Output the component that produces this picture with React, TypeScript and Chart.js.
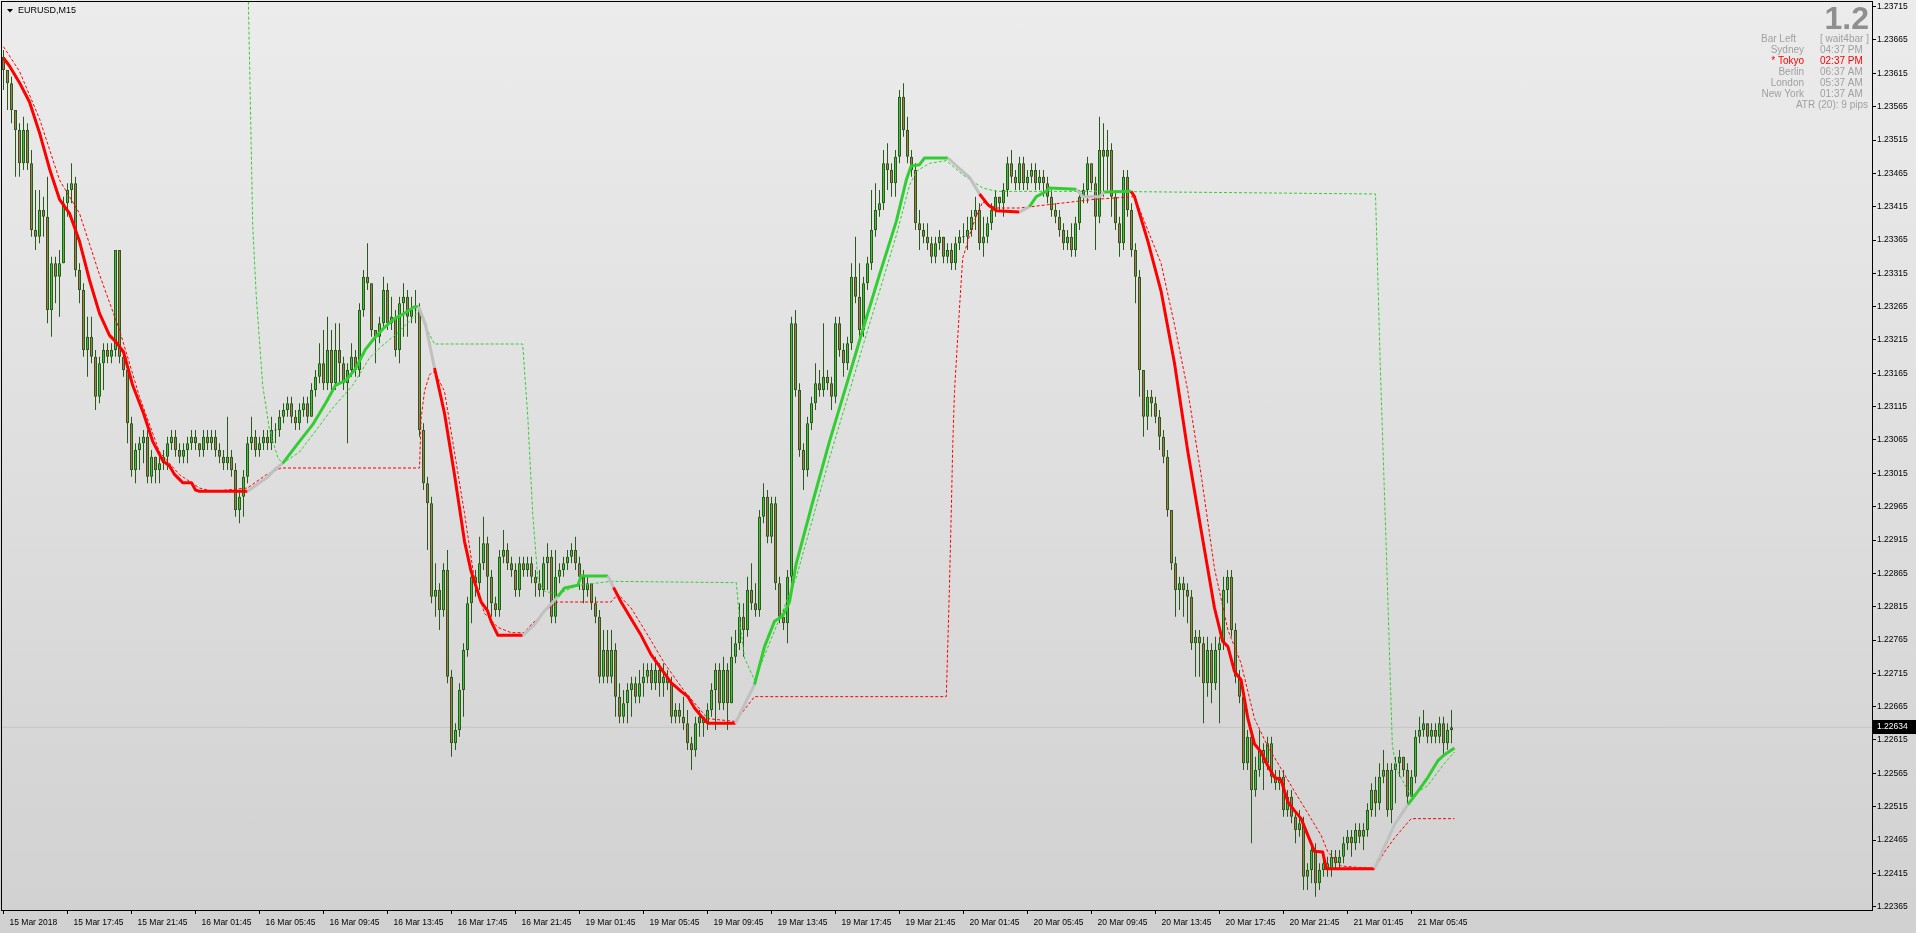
import React, { useEffect, useRef } from "react";
import { Chart, registerables } from "chart.js";

Chart.register(...registerables);

// ---------- data (EURUSD M15) ----------
const symbolTitle = "EURUSD,M15";
const firstOpen = 1.2364;
const lastPrice = 1.22634;

const closes = [1.2362,1.2360,1.2356,1.2353,1.2348,1.2353,1.2348,1.2338,1.2337,1.2341,
1.2340,1.2326,1.2333,1.2331,1.2333,1.2342,1.2344,1.2345,1.2332,1.2329,
1.2320,1.2322,1.2319,1.2313,1.2318,1.2320,1.2319,1.2320,1.2335,1.2319,
1.2317,1.2309,1.2302,1.2305,1.2306,1.2307,1.2301,1.2304,1.2302,1.2303,
1.2304,1.2306,1.2307,1.2305,1.2304,1.2305,1.2306,1.2307,1.2306,1.2305,
1.2307,1.2306,1.2307,1.2305,1.2304,1.2303,1.2304,1.2302,1.2296,1.2298,
1.2301,1.2306,1.2307,1.2305,1.2306,1.2307,1.2306,1.2308,1.2308,1.2310,
1.2311,1.2312,1.2310,1.2309,1.2311,1.2312,1.2310,1.2314,1.2316,1.2318,
1.2315,1.2320,1.2315,1.2320,1.2318,1.2315,1.2317,1.2319,1.2317,1.2326,
1.2331,1.2330,1.2323,1.2322,1.2324,1.2329,1.2324,1.2325,1.2320,1.2327,
1.2328,1.2325,1.2326,1.2326,1.2308,1.2300,1.2297,1.2283,1.2284,1.2281,
1.2287,1.2271,1.2261,1.2263,1.2269,1.2275,1.2282,1.2286,1.2285,1.2288,
1.2291,1.2286,1.2282,1.2281,1.2289,1.2290,1.2288,1.2287,1.2284,1.2288,
1.2287,1.2288,1.2286,1.2285,1.2284,1.2288,1.2289,1.2280,1.2286,1.2287,
1.2288,1.2289,1.2290,1.2288,1.2286,1.2284,1.2285,1.2282,1.2280,1.2271,
1.2275,1.2271,1.2275,1.2268,1.2265,1.2267,1.2269,1.2270,1.2268,1.2270,
1.2271,1.2272,1.2270,1.2272,1.2270,1.2271,1.2270,1.2265,1.2266,1.2265,
1.2264,1.2261,1.2260,1.2264,1.2265,1.2264,1.2266,1.2269,1.2272,1.2267,
1.2272,1.2267,1.2274,1.2276,1.2280,1.2278,1.2284,1.2282,1.2281,1.2295,
1.2298,1.2292,1.2297,1.2285,1.2280,1.2279,1.2286,1.2324,1.2314,1.2305,
1.2302,1.2309,1.2312,1.2315,1.2314,1.2316,1.2315,1.2313,1.2324,1.2320,
1.2318,1.2321,1.2331,1.2328,1.2323,1.2330,1.2333,1.2338,1.2341,1.2342,
1.2348,1.2347,1.2345,1.2349,1.2358,1.2353,1.2349,1.2347,1.2339,1.2338,
1.2337,1.2336,1.2334,1.2336,1.2337,1.2334,1.2335,1.2333,1.2336,1.2337,
1.2337,1.2338,1.2340,1.2341,1.2336,1.2337,1.2339,1.2341,1.2343,1.2342,
1.2344,1.2348,1.2346,1.2345,1.2348,1.2345,1.2346,1.2347,1.2345,1.2346,
1.2345,1.2343,1.2341,1.2340,1.2338,1.2336,1.2337,1.2335,1.2339,1.2343,
1.2344,1.2348,1.2345,1.2340,1.2350,1.2349,1.2350,1.2343,1.2339,1.2336,
1.2346,1.2341,1.2335,1.2331,1.2317,1.2310,1.2313,1.2312,1.2310,1.2307,
1.2304,1.2296,1.2288,1.2284,1.2285,1.2284,1.2283,1.2276,1.2277,1.2276,
1.2270,1.2275,1.2270,1.2275,1.2276,1.2284,1.2286,1.2278,1.2271,1.2268,
1.2258,1.2262,1.2254,1.2257,1.2260,1.2258,1.2261,1.2256,1.2255,1.2256,
1.2251,1.2253,1.2250,1.2248,1.2249,1.2241,1.2242,1.2245,1.2240,1.2242,
1.2243,1.2242,1.2244,1.2243,1.2244,1.2246,1.2247,1.2246,1.2248,1.2247,
1.2248,1.2251,1.2254,1.2252,1.2256,1.2257,1.2251,1.2257,1.2258,1.2259,
1.2257,1.2253,1.2256,1.2262,1.2263,1.2264,1.2262,1.2263,1.2262,1.2264,
1.2261,1.2263,1.22634];

const highs = [1.2365,1.2362,1.2361,1.2356,1.2354,1.2355,1.2354,1.2350,1.2344,1.2344,
1.2343,1.2346,1.2334,1.2334,1.2335,1.2343,1.2345,1.2348,1.2346,1.2333,
1.2330,1.2325,1.2325,1.2320,1.2319,1.2321,1.2321,1.2321,1.2335,1.2335,
1.2320,1.2318,1.2310,1.2306,1.2307,1.2308,1.2308,1.2305,1.2304,1.2304,
1.2305,1.2307,1.2308,1.2308,1.2306,1.2306,1.2307,1.2308,1.2308,1.2306,
1.2308,1.2308,1.2308,1.2308,1.2306,1.2305,1.2310,1.2305,1.2303,1.2299,
1.2302,1.2307,1.2310,1.2308,1.2307,1.2308,1.2308,1.2310,1.2309,1.2311,
1.2312,1.2313,1.2313,1.2311,1.2312,1.2313,1.2313,1.2315,1.2317,1.2321,
1.2323,1.2325,1.2323,1.2324,1.2324,1.2319,1.2318,1.2321,1.2320,1.2327,
1.2332,1.2336,1.2330,1.2323,1.2325,1.2331,1.2330,1.2328,1.2326,1.2328,
1.2330,1.2329,1.2328,1.2329,1.2327,1.2309,1.2301,1.2298,1.2288,1.2285,
1.2288,1.2290,1.2272,1.2264,1.2270,1.2276,1.2283,1.2287,1.2287,1.2292,
1.2295,1.2292,1.2287,1.2283,1.2290,1.2293,1.2291,1.2289,1.2288,1.2289,
1.2289,1.2289,1.2289,1.2287,1.2287,1.2289,1.2291,1.2290,1.2290,1.2288,
1.2289,1.2290,1.2291,1.2292,1.2289,1.2287,1.2286,1.2285,1.2283,1.2281,
1.2278,1.2278,1.2278,1.2276,1.2270,1.2269,1.2270,1.2271,1.2271,1.2272,
1.2273,1.2273,1.2273,1.2274,1.2273,1.2273,1.2272,1.2271,1.2267,1.2267,
1.2268,1.2266,1.2262,1.2265,1.2266,1.2265,1.2267,1.2270,1.2273,1.2273,
1.2274,1.2273,1.2277,1.2278,1.2282,1.2282,1.2286,1.2288,1.2285,1.2296,
1.2300,1.2299,1.2298,1.2298,1.2286,1.2281,1.2287,1.2325,1.2326,1.2315,
1.2306,1.2310,1.2313,1.2318,1.2317,1.2324,1.2317,1.2316,1.2325,1.2325,
1.2321,1.2322,1.2333,1.2337,1.2333,1.2331,1.2334,1.2344,1.2345,1.2344,
1.2350,1.2351,1.2348,1.2350,1.2359,1.2360,1.2355,1.2350,1.2348,1.2341,
1.2339,1.2339,1.2337,1.2337,1.2338,1.2337,1.2336,1.2336,1.2337,1.2338,
1.2339,1.2340,1.2341,1.2343,1.2342,1.2340,1.2340,1.2342,1.2344,1.2343,
1.2345,1.2349,1.2350,1.2347,1.2349,1.2349,1.2347,1.2348,1.2348,1.2347,
1.2347,1.2346,1.2344,1.2342,1.2341,1.2339,1.2338,1.2339,1.2340,1.2344,
1.2345,1.2349,1.2348,1.2346,1.2355,1.2354,1.2353,1.2351,1.2344,1.2340,
1.2347,1.2347,1.2342,1.2336,1.2332,1.2317,1.2314,1.2314,1.2313,1.2311,
1.2308,1.2305,1.2296,1.2289,1.2286,1.2286,1.2285,1.2284,1.2278,1.2278,
1.2277,1.2277,1.2276,1.2277,1.2277,1.2286,1.2287,1.2287,1.2279,1.2272,
1.2269,1.2263,1.2263,1.2259,1.2263,1.2261,1.2262,1.2262,1.2257,1.2257,
1.2257,1.2254,1.2254,1.2251,1.2251,1.2250,1.2243,1.2246,1.2246,1.2243,
1.2244,1.2244,1.2245,1.2245,1.2245,1.2247,1.2248,1.2248,1.2249,1.2249,
1.2249,1.2252,1.2255,1.2256,1.2258,1.2260,1.2258,1.2258,1.2259,1.2260,
1.2259,1.2258,1.2257,1.2263,1.2265,1.2266,1.2264,1.2264,1.2264,1.2265,
1.2265,1.2264,1.2266];

const lows = [1.2359,1.2356,1.2354,1.2346,1.2346,1.2347,1.2347,1.2337,1.2335,1.2336,
1.2337,1.2324,1.2322,1.2327,1.2325,1.2333,1.2340,1.2342,1.2331,1.2327,
1.2319,1.2316,1.2318,1.2311,1.2312,1.2314,1.2318,1.2318,1.2319,1.2318,
1.2316,1.2306,1.2301,1.2300,1.2302,1.2303,1.2300,1.2300,1.2300,1.2300,
1.2302,1.2302,1.2305,1.2304,1.2303,1.2303,1.2303,1.2305,1.2305,1.2304,
1.2304,1.2305,1.2305,1.2304,1.2303,1.2302,1.2302,1.2301,1.2295,1.2294,
1.2295,1.2300,1.2305,1.2304,1.2304,1.2305,1.2305,1.2305,1.2306,1.2307,
1.2309,1.2310,1.2309,1.2308,1.2308,1.2310,1.2309,1.2310,1.2313,1.2315,
1.2314,1.2314,1.2314,1.2314,1.2315,1.2314,1.2306,1.2316,1.2316,1.2316,
1.2325,1.2329,1.2322,1.2318,1.2321,1.2323,1.2323,1.2323,1.2319,1.2318,
1.2322,1.2322,1.2324,1.2324,1.2307,1.2299,1.2290,1.2282,1.2280,1.2278,
1.2280,1.2270,1.2259,1.2260,1.2262,1.2265,1.2274,1.2279,1.2283,1.2284,
1.2287,1.2281,1.2280,1.2280,1.2280,1.2288,1.2287,1.2286,1.2283,1.2283,
1.2286,1.2286,1.2285,1.2283,1.2283,1.2283,1.2284,1.2279,1.2279,1.2285,
1.2286,1.2287,1.2288,1.2287,1.2284,1.2282,1.2283,1.2281,1.2279,1.2270,
1.2270,1.2270,1.2270,1.2265,1.2264,1.2264,1.2264,1.2265,1.2267,1.2267,
1.2268,1.2270,1.2269,1.2269,1.2268,1.2268,1.2269,1.2264,1.2264,1.2264,
1.2263,1.2260,1.2257,1.2259,1.2262,1.2262,1.2263,1.2265,1.2263,1.2266,
1.2266,1.2263,1.2267,1.2273,1.2275,1.2274,1.2277,1.2281,1.2280,1.2280,
1.2294,1.2291,1.2291,1.2284,1.2279,1.2278,1.2276,1.2285,1.2313,1.2304,
1.2299,1.2301,1.2308,1.2311,1.2313,1.2313,1.2314,1.2311,1.2312,1.2319,
1.2316,1.2317,1.2320,1.2327,1.2322,1.2322,1.2329,1.2332,1.2337,1.2340,
1.2341,1.2344,1.2343,1.2343,1.2348,1.2352,1.2348,1.2346,1.2338,1.2335,
1.2336,1.2335,1.2333,1.2333,1.2335,1.2333,1.2333,1.2332,1.2332,1.2335,
1.2336,1.2335,1.2337,1.2338,1.2335,1.2334,1.2336,1.2338,1.2340,1.2341,
1.2340,1.2343,1.2345,1.2344,1.2344,1.2344,1.2344,1.2345,1.2344,1.2344,
1.2343,1.2342,1.2340,1.2339,1.2337,1.2335,1.2335,1.2334,1.2334,1.2338,
1.2342,1.2342,1.2344,1.2335,1.2339,1.2343,1.2344,1.2340,1.2338,1.2334,
1.2335,1.2340,1.2334,1.2327,1.2313,1.2307,1.2308,1.2310,1.2309,1.2305,
1.2303,1.2295,1.2287,1.2280,1.2281,1.2280,1.2279,1.2275,1.2271,1.2271,
1.2264,1.2268,1.2267,1.2269,1.2264,1.2275,1.2282,1.2277,1.2270,1.2267,
1.2257,1.2257,1.2246,1.2253,1.2256,1.2254,1.2257,1.2255,1.2254,1.2254,
1.2250,1.2250,1.2249,1.2246,1.2247,1.2239,1.2239,1.2240,1.2238,1.2239,
1.2241,1.2241,1.2241,1.2242,1.2242,1.2243,1.2245,1.2244,1.2245,1.2246,
1.2245,1.2247,1.2250,1.2250,1.2251,1.2255,1.2250,1.2249,1.2252,1.2256,
1.2256,1.2252,1.2253,1.2255,1.2261,1.2262,1.2261,1.2261,1.2261,1.2261,
1.2259,1.2260,1.2261];

// trend line knots: [bar, price, state of the following segment] d=down(red) u=up(green) n=neutral(gray)
const trendKnots = [
  [0,1.23638,"d"],[1.5,1.23626,"d"],[4,1.23601,"d"],[6.5,1.23572,"d"],[9,1.23526,"d"],
  [11.5,1.23472,"d"],[14,1.23426,"d"],[16.5,1.23405,"d"],[19,1.23363,"d"],[21.5,1.23305,"d"],
  [24,1.23255,"d"],[26.5,1.23222,"d"],[28,1.23213,"d"],[30,1.23197,"d"],[32.3,1.23147,"d"],
  [35,1.23105,"d"],[37.3,1.23063,"d"],[39.8,1.23034,"d"],[41.5,1.23026,"d"],[42.8,1.23013,"d"],
  [44.8,1.23001,"d"],[47,1.23001,"d"],[48,1.2299,"d"],[49,1.22988,"d"],[61,1.22988,"n"],
  [64,1.23001,"n"],[66,1.23009,"n"],[68,1.23022,"n"],[69.8,1.2303,"u"],[74,1.23063,"u"],
  [77.3,1.23088,"u"],[80.7,1.23122,"u"],[83,1.23147,"u"],[85.7,1.23155,"u"],[88,1.23172,"u"],
  [90.5,1.23201,"u"],[92.75,1.23218,"u"],[95.25,1.23234,"u"],[97.75,1.23247,"u"],[100.25,1.23255,"u"],
  [102.75,1.23265,"u"],[103.75,1.23265,"n"],[105.5,1.23238,"n"],[107.75,1.23173,"d"],[110.25,1.23105,"d"],
  [112.75,1.23013,"d"],[115.25,1.22913,"d"],[116.9,1.22868,"d"],[119.4,1.22822,"d"],[121,1.22809,"d"],
  [121.9,1.22793,"d"],[123.6,1.22772,"d"],[129.8,1.22772,"n"],[132.75,1.22788,"n"],[135.25,1.22809,"n"],
  [138.6,1.2283,"u"],[140.25,1.22843,"u"],[143.6,1.22847,"u"],[144.4,1.22861,"u"],[151.1,1.22861,"n"],
  [152.5,1.22844,"d"],[154.4,1.22822,"d"],[156.9,1.22797,"d"],[159.4,1.22772,"d"],[161.9,1.22743,"d"],
  [164.4,1.22722,"d"],[166.9,1.22701,"d"],[169.4,1.22688,"d"],[171.1,1.2268,"d"],[172.75,1.22663,"d"],
  [174.4,1.22651,"d"],[176.1,1.2264,"d"],[183,1.2264,"n"],[185.25,1.22668,"n"],[187.75,1.22698,"u"],
  [190.25,1.22755,"u"],[192.75,1.22793,"u"],[194.8,1.22801,"u"],[196.5,1.22822,"u"],[198.2,1.2288,"u"],
  [202.3,1.22972,"u"],[206.5,1.23063,"u"],[210.7,1.23147,"u"],[214.8,1.2323,"u"],[219,1.23313,"u"],
  [223.2,1.23393,"u"],[225.7,1.23455,"u"],[226.9,1.23476,"u"],[229,1.23478,"u"],[230.25,1.23488,"u"],
  [236.1,1.23488,"n"],[239,1.23472,"n"],[241.5,1.23459,"n"],[244,1.23434,"d"],[246.1,1.23418,"d"],
  [248.2,1.23409,"d"],[254,1.23407,"n"],[256.5,1.23415,"u"],[258.2,1.2343,"u"],[260.7,1.23438,"u"],
  [261.5,1.23443,"u"],[268.2,1.23441,"n"],[269.8,1.2343,"n"],[274,1.2343,"n"],[275.25,1.23437,"u"],
  [281.9,1.23438,"d"],[282.75,1.2343,"d"],[286.1,1.23363,"d"],[289.4,1.23288,"d"],[292.75,1.2318,"d"],
  [296.1,1.23047,"d"],[299.4,1.2293,"d"],[302.75,1.22813,"d"],[304.8,1.22763,"d"],[306.1,1.22755,"d"],
  [307.75,1.22718,"d"],[309.4,1.22705,"d"],[311.1,1.22647,"d"],[312.75,1.22609,"d"],[314.4,1.22597,"d"],
  [316.1,1.22576,"d"],[317.75,1.22559,"d"],[319.4,1.22555,"d"],[321.1,1.22522,"d"],[322.75,1.22509,"d"],
  [324.4,1.22497,"d"],[326.1,1.22472,"d"],[327.75,1.22448,"d"],[329.8,1.22447,"d"],[330.7,1.22422,"d"],
  [342.75,1.22422,"n"],[345.25,1.22455,"n"],[347.75,1.22488,"n"],[351.1,1.22518,"u"],[353.6,1.22538,"u"],
  [356.1,1.22559,"u"],[358.6,1.22584,"u"],[360.25,1.22593,"u"],[362.75,1.22603,"u"]
];

const redBand = [
  [0,1.23655],[4,1.23618],[9,1.23547],[14,1.23455],[19,1.23405],[24,1.23313],[29,1.2323],
  [34,1.2313],[39,1.23047],[44,1.23013],[49,1.22993],[52.3,1.22988],[61,1.22993],[65.7,1.23013],
  [69.4,1.23023],[104,1.23023],[104.4,1.23097],[105.25,1.23138],[106.5,1.23163],[107.75,1.23168],
  [110.25,1.23138],[112.75,1.23047],[115.25,1.22955],[117.75,1.22855],[120.25,1.22805],[123.6,1.22784],
  [126.9,1.22776],[130.25,1.22776],[131.9,1.22788],[133.6,1.22797],[135.25,1.22809],[138.6,1.22822],
  [151.9,1.22822],[153.6,1.22834],[156.9,1.22813],[161.1,1.22772],[165.25,1.2273],[170.25,1.22688],
  [174.4,1.22659],[176.1,1.22647],[182.75,1.22643],[184,1.22651],[187.75,1.2268],[235.7,1.2268],
  [236.5,1.22847],[237,1.22972],[237.3,1.23055],[237.75,1.23138],[239,1.23263],[239.8,1.23338],
  [240.3,1.23347],[241.5,1.23372],[243.2,1.23401],[244.8,1.23422],[248.2,1.23413],[254,1.23413],
  [272.75,1.23426],[282.75,1.2343],[289.4,1.2333],[292.75,1.23238],[296.1,1.23138],[299.4,1.23013],
  [302.75,1.22872],[306.1,1.2278],[309.4,1.2273],[312.75,1.22647],[316.1,1.22605],[319.4,1.22572],
  [322.75,1.22538],[326.1,1.22505],[329.4,1.22472],[331.1,1.22447],[334.4,1.22426],[342.75,1.22422],
  [345.25,1.22447],[347.75,1.22468],[351.9,1.22497],[362.75,1.22497]
];

const greenBand = [
  [61.2,1.2373],[61.9,1.23513],[62.3,1.23388],[63.2,1.2328],[64.8,1.23147],[66.5,1.2308],
  [68.6,1.23038],[69.8,1.2303],[74,1.23047],[78.2,1.2308],[82.3,1.23113],[87.3,1.23147],
  [91.5,1.23188],[94.4,1.23205],[98.6,1.23226],[102.75,1.23251],[104,1.23259],[105.25,1.23238],
  [107.75,1.23209],[129.8,1.23209],[131.1,1.23097],[132.3,1.22955],[133.6,1.22855],[135.25,1.22838],
  [138.6,1.22834],[143.6,1.22847],[151.9,1.22853],[183.2,1.22851],[184,1.22797],[185.25,1.22738],
  [187.75,1.22705],[194,1.22797],[198.2,1.22859],[202.3,1.22947],[206.5,1.23038],[210.7,1.23122],
  [214.8,1.23205],[219,1.23288],[223.2,1.23372],[226.5,1.23447],[228.2,1.23468],[231.5,1.2348],
  [235.7,1.23484],[239.8,1.23463],[244.8,1.23443],[248.2,1.23438],[274,1.23438],[343,1.23434],
  [344.2,1.23175],[345.7,1.229],[347.2,1.22608],[348.2,1.22572],[351.9,1.2253],[356.1,1.22547],
  [360.25,1.2258],[362.75,1.22597]
];

const xTickBars = [0,16,32,48,64,80,96,112,128,144,160,176,192,208,224,240,256,272,288,304,320,336,352];
const xTickLabels = ["15 Mar 2018","15 Mar 17:45","15 Mar 21:45","16 Mar 01:45","16 Mar 05:45","16 Mar 09:45",
  "16 Mar 13:45","16 Mar 17:45","16 Mar 21:45","19 Mar 01:45","19 Mar 05:45","19 Mar 09:45","19 Mar 13:45",
  "19 Mar 17:45","19 Mar 21:45","20 Mar 01:45","20 Mar 05:45","20 Mar 09:45","20 Mar 13:45","20 Mar 17:45",
  "20 Mar 21:45","21 Mar 01:45","21 Mar 05:45"];
const yTickValues = [1.23715,1.23665,1.23615,1.23565,1.23515,1.23465,1.23415,1.23365,1.23315,1.23265,
  1.23215,1.23165,1.23115,1.23065,1.23015,1.22965,1.22915,1.22865,1.22815,1.22765,1.22715,1.22665,
  1.22615,1.22565,1.22515,1.22465,1.22415,1.22365];

const bigQuote = "1.2";
const infoRows = [["Bar Left","[ wait4bar ]"],["Sydney","04:37 PM"],["* Tokyo","02:37 PM"],
  ["Berlin","06:37 AM"],["London","05:37 AM"],["New York","01:37 AM"]];
const atrText = "ATR (20): 9 pips";

// ---------- styling ----------
const FONT = "'Liberation Sans', Arial, sans-serif";
const BULL = "#3cc43c";
const BEAR = "#a87a4e";
const EDGE = "#2b5a1c";
const TREND_COLORS: any = { d: "#ff0000", u: "#32cd32", n: "#c0c0c0" };

const overlayPlugin = {
  id: "mtOverlay",
  afterDraw(chart: any) {
    const { ctx, chartArea: a } = chart;
    const ys = chart.scales.y;
    ctx.save();
    ctx.strokeStyle = "#000";
    ctx.lineWidth = 1;
    ctx.strokeRect(a.left - 0.5, a.top - 0.5, a.right - a.left + 1, a.bottom - a.top + 1);

    // title
    ctx.fillStyle = "#000";
    ctx.beginPath();
    ctx.moveTo(7, 9);
    ctx.lineTo(13, 9);
    ctx.lineTo(10, 12.5);
    ctx.closePath();
    ctx.fill();
    ctx.font = `9px ${FONT}`;
    ctx.textBaseline = "middle";
    ctx.textAlign = "left";
    ctx.fillText(symbolTitle, 18, 11);

    // info panel
    ctx.font = `bold 32px ${FONT}`;
    ctx.fillStyle = "#8f8f8f";
    ctx.textAlign = "right";
    ctx.textBaseline = "alphabetic";
    ctx.fillText(bigQuote, 1869, 29);
    ctx.font = `10px ${FONT}`;
    ctx.textBaseline = "middle";
    infoRows.forEach((r, k) => {
      const yy = 39.5 + k * 11;
      ctx.fillStyle = r[0].charAt(0) === "*" ? "#ff0000" : "#a0a0a0";
      ctx.textAlign = "right";
      ctx.fillText(r[0], k === 0 ? 1796 : 1804, yy);
      ctx.textAlign = "left";
      ctx.fillText(r[1], 1820, yy);
    });
    ctx.fillStyle = "#a0a0a0";
    ctx.textAlign = "right";
    ctx.fillText(atrText, 1868, 39.5 + 6 * 11);

    // current price box
    const py = Math.round(ys.getPixelForValue(lastPrice));
    ctx.fillStyle = "#000";
    ctx.fillRect(a.right + 1, py - 7, chart.width - a.right - 1, 14);
    ctx.fillStyle = "#fff";
    ctx.font = `8.5px ${FONT}`;
    ctx.textAlign = "left";
    ctx.textBaseline = "middle";
    ctx.fillText(lastPrice.toFixed(5), a.right + 5, py);
    ctx.restore();
  },
};

export default function App() {
  const canvasRef = useRef<HTMLCanvasElement | null>(null);

  useEffect(() => {
    document.body.style.margin = "0";
    const canvas = canvasRef.current;
    if (!canvas) return;

    const opens = closes.map((c, i) => (i === 0 ? firstOpen : closes[i - 1]));
    const wickData = closes.map((c, i) => ({
      x: i,
      y: [Math.min(lows[i], opens[i], c), Math.max(highs[i], opens[i], c)],
    }));
    const bodyData = closes.map((c, i) => {
      const o = opens[i];
      if (Math.abs(c - o) < 1e-7) return { x: i, y: [o - 0.000008, o + 0.000008] };
      return { x: i, y: [o, c] };
    });
    const bodyColors = closes.map((c, i) => (c >= opens[i] ? BULL : BEAR));

    const xMin = -0.375;
    const xMax = 467.125;

    const chart = new Chart(canvas, {
      type: "bar",
      data: {
        datasets: [
          {
            type: "line",
            data: trendKnots.map((k: any) => ({ x: k[0], y: k[1] })),
            borderColor: TREND_COLORS.d,
            borderWidth: 3,
            pointRadius: 0,
            tension: 0,
            clip: 0,
            borderJoinStyle: "round",
            segment: {
              borderColor: (ctx: any) => TREND_COLORS[trendKnots[ctx.p0DataIndex][2] as string],
            },
          } as any,
          {
            type: "line",
            data: redBand.map((p) => ({ x: p[0], y: p[1] })),
            borderColor: "#ff0000",
            borderWidth: 1,
            borderDash: [3, 2],
            pointRadius: 0,
            tension: 0,
            clip: 0,
          } as any,
          {
            type: "line",
            data: greenBand.map((p) => ({ x: p[0], y: p[1] })),
            borderColor: "#32cd32",
            borderWidth: 1,
            borderDash: [3, 2],
            pointRadius: 0,
            tension: 0,
            clip: 0,
          } as any,
          {
            type: "bar",
            data: bodyData as any,
            backgroundColor: bodyColors,
            borderColor: EDGE,
            borderWidth: 1,
            borderSkipped: false,
            barThickness: 3,
            grouped: false,
            inflateAmount: 0,
          } as any,
          {
            type: "bar",
            data: wickData as any,
            backgroundColor: EDGE,
            borderWidth: 0,
            barThickness: 1,
            grouped: false,
            inflateAmount: 0,
          } as any,
          {
            type: "line",
            data: [{ x: xMin, y: lastPrice }, { x: xMax, y: lastPrice }],
            borderColor: "#c4c4c4",
            borderWidth: 1,
            pointRadius: 0,
          } as any,
        ],
      },
      options: {
        responsive: false,
        devicePixelRatio: 1,
        animation: false,
        events: [],
        layout: { padding: { left: 2, top: 2, right: 0, bottom: 0 } },
        plugins: { legend: { display: false }, tooltip: { enabled: false } },
        scales: {
          x: {
            type: "linear",
            position: "bottom",
            min: xMin,
            max: xMax,
            offset: false,
            afterBuildTicks: (s: any) => {
              s.ticks = xTickBars.map((v) => ({ value: v }));
            },
            afterFit: (s: any) => {
              s.height = 23;
              s.paddingLeft = 0;
              s.paddingRight = 0;
            },
            grid: { drawOnChartArea: false, drawTicks: true, tickLength: 4, color: "#000", lineWidth: 1, offset: false },
            border: { display: false },
            ticks: {
              autoSkip: false,
              maxRotation: 0,
              minRotation: 0,
              align: "start",
              labelOffset: 6,
              padding: 4,
              color: "#000",
              font: { family: FONT, size: 8.5 },
              callback: (_v: any, i: number) => xTickLabels[i] ?? "",
            },
          },
          y: {
            type: "linear",
            position: "right",
            min: 1.2236,
            max: 1.23722,
            afterBuildTicks: (s: any) => {
              s.ticks = yTickValues.map((v) => ({ value: v }));
            },
            afterFit: (s: any) => {
              s.width = 44;
              s.paddingTop = 0;
              s.paddingBottom = 0;
            },
            grid: { drawOnChartArea: false, drawTicks: true, tickLength: 4, color: "#000", lineWidth: 1 },
            border: { display: false },
            ticks: {
              autoSkip: false,
              padding: 1,
              color: "#000",
              font: { family: FONT, size: 8.5 },
              callback: (v: any) => Number(v).toFixed(5),
            },
          },
        },
      } as any,
      plugins: [overlayPlugin],
    });

    return () => chart.destroy();
  }, []);

  return (
    <div
      style={{
        width: 1916,
        height: 933,
        background: "linear-gradient(#ececec, #d1d1d1)",
        overflow: "hidden",
      }}
    >
      <canvas ref={canvasRef} width={1916} height={933} style={{ display: "block", width: 1916, height: 933 }} />
    </div>
  );
}
